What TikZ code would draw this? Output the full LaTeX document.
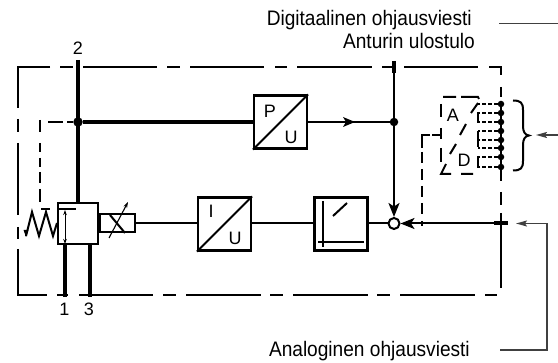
\documentclass[tikz,border=0pt]{standalone}
\usepackage{fontspec}
\setmainfont{Liberation Sans}
\newfontfamily\narrowf[FakeStretch=0.91]{Liberation Sans}
\usetikzlibrary{arrows.meta}
\tikzset{
 x=1pt,y=-1pt,
 ln/.style={line width=2pt,black},
 thickln/.style={line width=3.4pt,black},
 thinln/.style={line width=1.5pt,black!75},
 outer/.style={line width=2pt,black},
 fine/.style={line width=2.2pt,black,dash pattern=on 3.6pt off 2.2pt},
 blockbox/.style={draw=black,line width=2.2pt,fill=white,minimum width=53pt,minimum height=53pt,inner sep=0pt},
 dot/.style={circle,fill=black,inner sep=0pt,minimum size=9.5pt},
 chain/.style={circle,fill=black,inner sep=0pt,minimum size=6.5pt},
 ring/.style={circle,draw=black,fill=white,line width=2pt,inner sep=0pt,minimum size=11pt},
 lab/.style={font=\fontsize{18}{20}\selectfont,inner sep=0pt},
 caption/.style={font=\narrowf\fontsize{21}{24}\selectfont,inner sep=0pt,anchor=base east},
 tip/.style={-{Stealth[length=14pt,width=11pt,inset=3.5pt]}},
 tinytip/.style={-{Stealth[length=11pt,width=6pt,inset=2pt]}}
}
\begin{document}
\begin{tikzpicture}
\useasboundingbox (0,0) rectangle (558,363);
% outer dashed box
\draw[outer] (50,67.5)--(18,67.5)--(18,108);
\draw[outer] (60,67.5)--(73,67.5) (83,67.5)--(157,67.5) (167,67.5)--(180,67.5) (190,67.5)--(264,67.5) (275,67.5)--(287,67.5) (297,67.5)--(372,67.5) (382,67.5)--(394,67.5) (404,67.5)--(478,67.5);
\draw[outer] (489,67.5)--(501,67.5)--(501,75);
\draw[outer] (501,87)--(501,97) (501,103)--(501,181) (501,192)--(501,205) (501,213)--(501,288);
\draw[outer] (18,119)--(18,132) (18,143)--(18,215) (18,227)--(18,239) (18,249)--(18,295)--(47,295);
\draw[outer] (57,295)--(68,295) (79,295)--(153,295) (163,295)--(176,295) (186,295)--(261,295) (270,295)--(283,295) (293,295)--(368,295) (377,295)--(390,295) (400,295)--(475,295) (485,295)--(497,295);
% nodes
\node[blockbox] (pu) at (280.5,122) {};
\node[blockbox] (iu) at (224.5,224) {};
\node[blockbox] (ramp) at (341,224) {};
\node[dot] (j2) at (78,122) {};
\node[dot,minimum size=8.5pt] (j3) at (394,122) {};
\node[ring] (sum) at (394,223.5) {};
\node[draw=black,line width=2.2pt,fill=white,minimum width=40.5pt,minimum height=41pt,inner sep=0pt] (valve) at (78,223.5) {};
\node[draw=black,line width=2pt,minimum width=35pt,minimum height=18pt,inner sep=0pt] (sol) at (117,223.5) {};
\coordinate (t2) at (78,60);
\coordinate (t4) at (394,61);
\coordinate (p1) at (65,297);
\coordinate (p3) at (90,297);
\coordinate (in) at (501,223.5);
\coordinate (sw) at (440,135);
\coordinate (bend) at (422,135);
% valve details
\draw[line width=2pt] (110,215) -- (125,233);
\draw[line width=1.1pt,-{Stealth[length=6pt,width=4pt]}] (109,238) -- (128,202);
\draw[thickln] (t2) -- (valve.north);
\draw[line width=2.2pt] (57,209)--(76,209);
\draw[line width=1pt,{Stealth[length=5pt,width=3.5pt]}-{Stealth[length=5pt,width=3.5pt]}] (65,210)--(65,244);
\draw[thickln] (65,244.5) -- (p1);
\draw[thickln] (90,244.5) -- (p3);
% spring
\draw[line width=2pt,line join=miter] (26,236) -- (32,212) -- (39,236) -- (46,212) -- (53,236) -- (57,223);
\draw[line width=2pt] (41,209)--(50,209);
\fill (23.5,230) -- (28.5,230) -- (26,237) -- cycle;
% connections
\draw[thickln] (j2) -- (pu);
\draw[ln] (pu) -- (j3);
\fill (355,122) -- (343,117) -- (346,122) -- (343,127) -- cycle;
\draw[ln] (t4) -- (j3);
\draw[line width=4.5pt] (394,61) -- (394,73);
\draw[ln,tip] (j3) -- (sum);
\draw[ln] (sol.east) -- (iu.west |- sol.east);
\draw[ln] (iu.east |- sol.east) -- (ramp.west |- sol.east);
\draw[ln] (ramp.east |- sum) -- (sum);
\draw[ln,tip] (in) -- (sum);
\draw[line width=4pt] (494,223.5) -- (508,223.5);
% dashed pilot
\draw[outer] (48,122)--(63,122) (67,122)--(73,122);
\draw[outer] (40,120)--(40,132) (40,143)--(40,152) (40,158)--(40,167) (40,172)--(40,183) (40,189)--(40,202);
% block diagonals
\draw[line width=2pt] (pu.south west) -- (pu.north east);
\draw[line width=2pt] (iu.south west) -- (iu.north east);
\node[lab] at (270,111) {P};
\node[lab] at (291,137) {U};
\node[lab] at (211,211) {I};
\node[lab] at (235,238) {U};
% ramp symbol
\draw[line width=2pt] (323,201) -- (323,247);
\draw[line width=2pt] (318,242) -- (364,242);
\draw[line width=2pt] (333,216) -- (347,203);
% A/D converter box
\draw[outer] (443,97)--(456,97) (461,97)--(478,97)--(479,99);
\draw[outer] (478,103)--(471,113) (466,124)--(460,135) (456,144)--(450,154) (446,164)--(441,174)--(451,174) (461,174)--(473,174);
\draw[outer] (441,104)--(441,117) (441,128)--(441,139) (441,148)--(441,162);
\draw[outer] (sw)--(432,135);
\draw[outer] (430,135)--(bend)--(422,148) (422,152)--(422,163) (422,169)--(422,180) (422,186)--(422,197) (422,203)--(422,214) (422,221)--(422,226);
\node[lab] at (453,115) {A};
\node[lab] at (464,160) {D};
% resistor chain
\foreach \y/\n in {104/c1,113/c2,122/c3,131/c4,140/c5,148/c6,157/c7,167/c8}{
  \node[chain] (\n) at (501,\y) {};
  \draw[fine] (\n) -- (478,\y);
}
\draw[outer] (478,112)--(478,123) (478,131)--(478,147) (478,156)--(478,168);
% brace
\draw[line width=2pt] (513,100.5) .. controls (521,100.5) and (523,103) .. (523,110) -- (523,126) .. controls (523,132) and (525,135) .. (529,135.5) .. controls (525,136) and (523,139) .. (523,145) -- (523,161) .. controls (523,168) and (521,170.5) .. (513,170.5);
% external signal lines
\coordinate (d1) at (499,23.7);
\coordinate (d2) at (558,23.7);
\coordinate (b1) at (558,135);
\coordinate (b2) at (536,135);
\coordinate (a1) at (500,350);
\coordinate (a2) at (547,350);
\coordinate (a3) at (547,223.5);
\coordinate (a4) at (516,223.5);
\draw[thinln] (d1) -- (d2);
\draw[thinln,tinytip] (b1) -- (b2);
\draw[thinln,tinytip] (a1) -- (a2) -- (a3) -- (a4);
% texts
\node[lab] (n2) at (78,48) {2};
\node[lab] (n1) at (64.5,309) {1};
\node[lab] (n3) at (89,309) {3};
\node[caption] (tx1) at (472,26) {Digitaalinen ohjausviesti};
\node[caption] (tx2) at (475,49) {Anturin ulostulo};
\node[caption] (tx3) at (470,357) {Analoginen ohjausviesti};
\end{tikzpicture}
\end{document}
